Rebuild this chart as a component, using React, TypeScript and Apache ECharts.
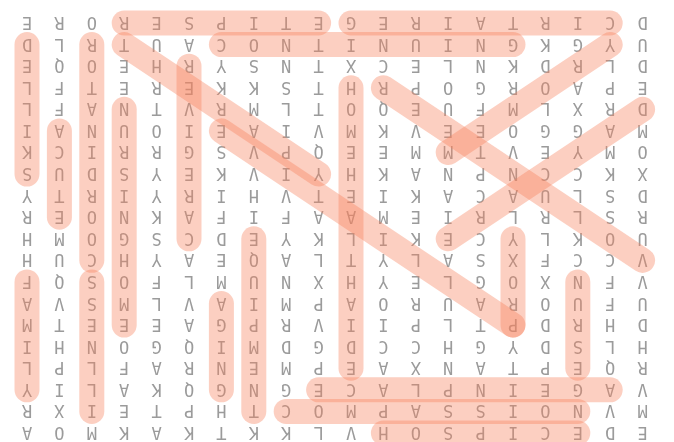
import React, { useEffect, useRef } from "react";
import * as echarts from "echarts";

// Letter grid as displayed (each letter is drawn upside down)
const GRID_ROWS: string[] = [
  "ERORESPITEGERIATRICD",
  "DLRTUACONTINUINGKGYU",
  "EQOEHRYSNTXCELNKDRLD",
  "LFTEREKKSTHRPOGROAPE",
  "LFANTVRMLTOQEUFMLXRD",
  "IANUOIEAIVMKVEEOGGAM",
  "KCIRRGSVPQEEMMTVEYMO",
  "SUDSYEKVIYHKANPNCCKX",
  "YTRIYRIHVTEIKACAULSD",
  "REONKAFIFAAMEIRLRLSR",
  "HMOGSCDEYKLIKECYLKOU",
  "HUCHYAEQALTYLASXFCCV",
  "FQSOFLMUNXHYELGOXNFV",
  "AVSMLVAIMPAORUAROUFU",
  "MTEEEAGPRVIIPLTPDRHD",
  "IHNOGQIMDGDCCHGYDSLH",
  "LPLFARNEMPEAXNATPEQR",
  "YILAKQGNGECALPNIEGAV",
  "RXIETPHTCOMPASSIONVM",
  "AOMKAKTKKLVHOSPICEDE",
];

// Found words: [word, startRow, startCol, endRow, endCol]
const WORDS: [string, number, number, number, number][] = [
  ["RESPITE", 0, 3, 0, 9],
  ["GERIATRIC", 0, 10, 0, 18],
  ["CONTINUING", 1, 6, 1, 15],
  ["SKILLED", 1, 0, 7, 0],
  ["ACUTE", 5, 1, 9, 1],
  ["COORDINATOR", 1, 2, 11, 2],
  ["NURSINGHOME", 4, 3, 14, 3],
  ["CAREGIVER", 2, 5, 10, 5],
  ["THERAPY", 1, 3, 7, 9],
  ["PALLIATIVE", 5, 6, 14, 15],
  ["VOLUNTEER", 3, 11, 11, 19],
  ["DAYCARE", 4, 19, 10, 13],
  ["MEMORY", 1, 18, 6, 13],
  ["HOMEHEALTHAIDE", 3, 10, 16, 10],
  ["PROXY", 10, 15, 14, 15],
  ["NURSE", 12, 17, 16, 17],
  ["FAMILY", 12, 0, 17, 0],
  ["ILLNESS", 12, 2, 18, 2],
  ["AGING", 13, 6, 17, 6],
  ["EQUIPMENT", 10, 7, 18, 7],
  ["AGEINPLACE", 17, 9, 17, 18],
  ["COMPASSION", 18, 8, 18, 17],
  ["HOSPICE", 19, 11, 19, 17],
];

export default function App() {
  const ref = useRef<HTMLDivElement>(null);

  useEffect(() => {
    if (!ref.current) return;
    const chart = echarts.init(ref.current, null, { renderer: "svg" });

    const letters: { c: number; r: number; ch: string }[] = [];
    GRID_ROWS.forEach((row, r) =>
      row.split("").forEach((ch, c) => letters.push({ c, r, ch }))
    );

    chart.setOption({
      animation: false,
      grid: { left: 27, right: 31.4, top: 23, bottom: 9 },
      xAxis: { type: "value", min: 0, max: 19, show: false },
      yAxis: { type: "value", min: 0, max: 19, inverse: true, show: false },
      series: [
        {
          type: "custom",
          z: 1,
          data: letters.map((d) => [d.c, d.r]),
          renderItem: (params: any, api: any) => {
            const d = letters[params.dataIndex];
            const p = api.coord([d.c, d.r]);
            return {
              type: "text",
              x: p[0],
              y: p[1],
              rotation: Math.PI,
              style: {
                text: d.ch,
                fill: "#9b9b9b",
                fontSize: 17,
                fontFamily: "DejaVu Sans Mono",
                align: "center",
                verticalAlign: "middle",
              },
            };
          },
        },
        {
          type: "custom",
          z: 2,
          data: WORDS.map((w) => [w[2], w[1], w[4], w[3]]),
          renderItem: (params: any, api: any) => {
            const w = WORDS[params.dataIndex];
            const p1 = api.coord([w[2], w[1]]);
            const p2 = api.coord([w[4], w[3]]);
            return {
              type: "line",
              shape: { x1: p1[0], y1: p1[1], x2: p2[0], y2: p2[1] },
              style: {
                stroke: "rgba(246,128,92,0.38)",
                lineWidth: 25,
                lineCap: "round",
              },
            };
          },
        },
      ],
    });

    return () => chart.dispose();
  }, []);

  return (
    <div
      ref={ref}
      style={{ position: "fixed", left: 0, top: 0, width: 674, height: 442 }}
    />
  );
}
